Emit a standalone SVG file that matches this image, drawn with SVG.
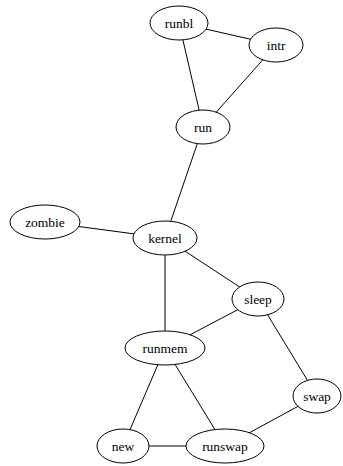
<svg xmlns="http://www.w3.org/2000/svg" width="343" height="466" viewBox="0 0 343 466">
<style>
.n ellipse{fill:#fff;stroke:#000;stroke-width:1}
.n text{font-family:'Liberation Serif','Times New Roman',Times,'DejaVu Serif',serif;font-size:13.5px;text-anchor:middle;fill:#000}
#edges line{stroke:#000;stroke-width:1}
</style>
<rect width="343" height="466" fill="#fff"/>
<g id="edges">
<line x1="179" y1="23" x2="276" y2="45"/>
<line x1="179" y1="23" x2="203" y2="127"/>
<line x1="276" y1="45" x2="203" y2="127"/>
<line x1="203" y1="127" x2="165" y2="238"/>
<line x1="45" y1="222" x2="165" y2="238"/>
<line x1="165" y1="238" x2="165" y2="348"/>
<line x1="165" y1="238" x2="258" y2="299"/>
<line x1="258" y1="299" x2="165" y2="348"/>
<line x1="258" y1="299" x2="317" y2="396"/>
<line x1="165" y1="348" x2="123" y2="446"/>
<line x1="165" y1="348" x2="225" y2="446"/>
<line x1="123" y1="446" x2="225" y2="446"/>
<line x1="317" y1="396" x2="225" y2="446"/>
</g>
<g id="runbl" class="n"><ellipse cx="179" cy="23" rx="29" ry="17"/><text x="179" y="27.5" font-family="Liberation Serif, serif">runbl</text></g>
<g id="intr" class="n"><ellipse cx="276" cy="45" rx="27" ry="17"/><text x="276" y="49.5">intr</text></g>
<g id="run" class="n"><ellipse cx="203" cy="127" rx="27" ry="17"/><text x="203" y="131.5">run</text></g>
<g id="zombie" class="n"><ellipse cx="45" cy="222" rx="35" ry="17"/><text x="45" y="226.5">zombie</text></g>
<g id="kernel" class="n"><ellipse cx="165" cy="238" rx="32" ry="17"/><text x="165" y="242.5">kernel</text></g>
<g id="sleep" class="n"><ellipse cx="258" cy="299" rx="26" ry="17"/><text x="258" y="303.5">sleep</text></g>
<g id="runmem" class="n"><ellipse cx="165" cy="348" rx="40" ry="17"/><text x="165" y="352.5">runmem</text></g>
<g id="swap" class="n"><ellipse cx="317" cy="396" rx="24" ry="17"/><text x="317" y="400.5">swap</text></g>
<g id="new" class="n"><ellipse cx="123" cy="446" rx="26" ry="17"/><text x="123" y="450.5">new</text></g>
<g id="runswap" class="n"><ellipse cx="225" cy="446" rx="39" ry="17"/><text x="225" y="450.5">runswap</text></g>
</svg>
